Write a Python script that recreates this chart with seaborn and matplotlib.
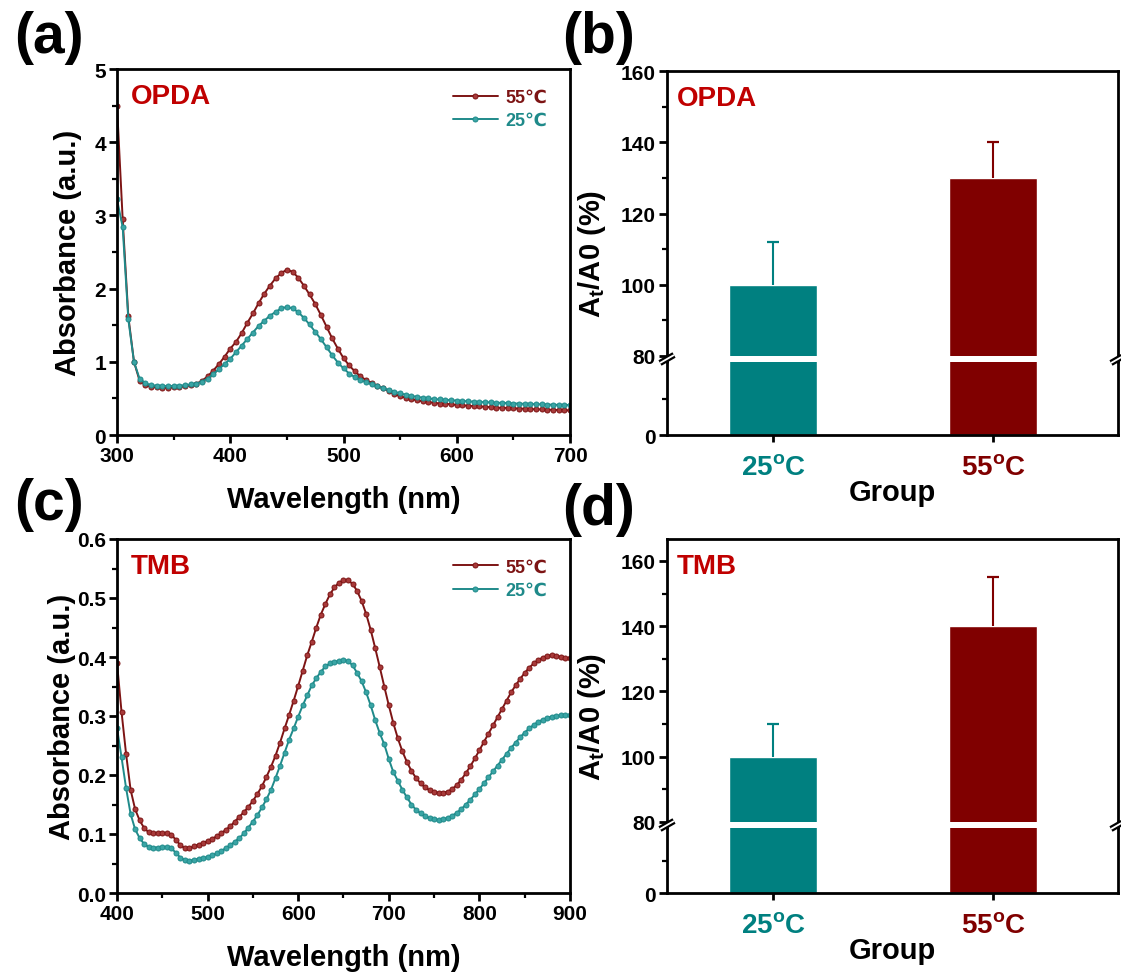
import numpy as np
import pandas as pd
import matplotlib
matplotlib.use('Agg')
import matplotlib.pyplot as plt
from matplotlib.ticker import MultipleLocator, FixedLocator
from matplotlib.lines import Line2D
import seaborn as sns

# ---- data ----
wl_opda = np.arange(300, 705, 5)
opda_55 = [4.50, 2.95, 1.62, 1.00, 0.74, 0.68, 0.66, 0.65, 0.645, 0.645,
           0.65, 0.655, 0.665, 0.68, 0.70, 0.74, 0.80, 0.88, 0.97, 1.07,
           1.18, 1.27, 1.39, 1.53, 1.66, 1.80, 1.93, 2.04, 2.14, 2.21,
           2.26, 2.23, 2.15, 2.04, 1.92, 1.79, 1.64, 1.48, 1.32, 1.18,
           1.05, 0.95, 0.87, 0.80, 0.75, 0.71, 0.67, 0.64, 0.60, 0.56,
           0.53, 0.51, 0.49, 0.475, 0.46, 0.45, 0.44, 0.43, 0.425, 0.42,
           0.41, 0.405, 0.40, 0.395, 0.39, 0.385, 0.38, 0.375, 0.37, 0.37,
           0.365, 0.36, 0.36, 0.355, 0.35, 0.35, 0.345, 0.345, 0.34, 0.34,
           0.335]
opda_25 = [3.22, 2.84, 1.58, 1.00, 0.765, 0.71, 0.68, 0.675, 0.67, 0.67,
           0.67, 0.675, 0.68, 0.69, 0.70, 0.73, 0.77, 0.83, 0.90, 0.97,
           1.04, 1.13, 1.22, 1.31, 1.40, 1.49, 1.56, 1.63, 1.68, 1.73,
           1.75, 1.73, 1.68, 1.60, 1.51, 1.41, 1.31, 1.20, 1.09, 0.99,
           0.91, 0.84, 0.79, 0.75, 0.72, 0.69, 0.665, 0.64, 0.615, 0.59,
           0.57, 0.55, 0.535, 0.52, 0.51, 0.50, 0.49, 0.485, 0.48, 0.475,
           0.47, 0.465, 0.46, 0.455, 0.45, 0.45, 0.445, 0.44, 0.44, 0.435,
           0.43, 0.43, 0.425, 0.425, 0.42, 0.42, 0.415, 0.415, 0.41, 0.41,
           0.41]

wl_tmb = np.arange(400, 905, 5)
tmb_55 = [0.39, 0.307, 0.236, 0.175, 0.142, 0.123, 0.110, 0.103, 0.101, 0.102,
          0.102, 0.101, 0.099, 0.090, 0.081, 0.076, 0.076, 0.079, 0.082, 0.085,
          0.088, 0.092, 0.096, 0.101, 0.107, 0.113, 0.121, 0.129, 0.137, 0.146,
          0.156, 0.168, 0.181, 0.197, 0.214, 0.233, 0.255, 0.279, 0.302, 0.326,
          0.351, 0.377, 0.403, 0.426, 0.450, 0.472, 0.490, 0.506, 0.518, 0.526,
          0.530, 0.530, 0.524, 0.512, 0.495, 0.473, 0.446, 0.415, 0.383, 0.350,
          0.318, 0.288, 0.262, 0.240, 0.222, 0.207, 0.195, 0.186, 0.179, 0.174,
          0.171, 0.170, 0.170, 0.172, 0.176, 0.183, 0.192, 0.203, 0.215, 0.228,
          0.242, 0.256, 0.270, 0.284, 0.298, 0.312, 0.326, 0.340, 0.352, 0.363,
          0.373, 0.382, 0.389, 0.395, 0.399, 0.402, 0.403, 0.402, 0.400, 0.398,
          0.398]
tmb_25 = [0.28, 0.230, 0.178, 0.134, 0.108, 0.093, 0.083, 0.078, 0.077, 0.077,
          0.078, 0.078, 0.076, 0.068, 0.060, 0.056, 0.055, 0.056, 0.058, 0.059,
          0.061, 0.064, 0.067, 0.071, 0.076, 0.081, 0.087, 0.093, 0.101, 0.111,
          0.121, 0.132, 0.145, 0.159, 0.175, 0.195, 0.216, 0.238, 0.260, 0.279,
          0.299, 0.318, 0.335, 0.352, 0.364, 0.375, 0.384, 0.389, 0.392, 0.393,
          0.395, 0.393, 0.386, 0.373, 0.359, 0.340, 0.318, 0.293, 0.271, 0.252,
          0.227, 0.205, 0.190, 0.175, 0.162, 0.150, 0.141, 0.135, 0.130, 0.127,
          0.125, 0.124, 0.125, 0.127, 0.131, 0.136, 0.142, 0.150, 0.158, 0.167,
          0.176, 0.186, 0.196, 0.206, 0.216, 0.226, 0.236, 0.246, 0.255, 0.264,
          0.272, 0.279, 0.285, 0.290, 0.294, 0.297, 0.299, 0.300, 0.301, 0.301,
          0.301]

groups = ['25°C', '55°C']
group_labels = [r'25$^{\mathbf{o}}$C', r'55$^{\mathbf{o}}$C']
opda_ratio = [100, 130]
opda_err = [12, 10]
tmb_ratio = [100, 140]
tmb_err = [10, 15]

# ---- style ----
sns.set_style('white')
plt.rcParams['font.family'] = ['Liberation Sans', 'DejaVu Sans']
plt.rcParams['font.weight'] = 'bold'
plt.rcParams['axes.labelweight'] = 'bold'
plt.rcParams['text.color'] = 'black'
plt.rcParams['axes.labelcolor'] = 'black'
plt.rcParams['xtick.color'] = 'black'
plt.rcParams['ytick.color'] = 'black'
plt.rcParams['mathtext.fontset'] = 'custom'
plt.rcParams['mathtext.rm'] = 'Liberation Sans:bold'
plt.rcParams['mathtext.bf'] = 'Liberation Sans:bold'
plt.rcParams['mathtext.it'] = 'Liberation Sans:bold'

RED_LINE = '#7d1414'
RED_MK = '#a83a3a'
TEAL_LINE = '#1f8a8a'
TEAL_MK = '#3aa5a5'
TEAL = '#008080'
MAROON = '#800000'
TITLE_RED = '#c00000'
SPINE_W = 2.0

W, H = 1121, 978
fig = plt.figure(figsize=(W / 100, H / 100), dpi=100)


def rect(l, t, r, b):
    return [l / W, 1 - b / H, (r - l) / W, (b - t) / H]


def style_axis(ax):
    for s in ax.spines.values():
        s.set_linewidth(SPINE_W)
        s.set_color('black')
    ax.tick_params(which='major', direction='out', length=6, width=2,
                   labelsize=15, left=True, bottom=True, pad=2,
                   colors='black')
    ax.tick_params(which='minor', direction='out', length=3.5, width=1.6,
                   left=True, bottom=True, colors='black')


def spectrum(ax, wl, hot, cold, xlim, ylim, xmaj, ymaj, ymin, name):
    sns.lineplot(x=wl, y=hot, ax=ax, color=RED_LINE, linewidth=1.4,
                 marker='o', markersize=3.6, markerfacecolor=RED_MK,
                 markeredgecolor=RED_LINE, markeredgewidth=0.7, label='55℃')
    sns.lineplot(x=wl, y=cold, ax=ax, color=TEAL_LINE, linewidth=1.4,
                 marker='o', markersize=3.6, markerfacecolor=TEAL_MK,
                 markeredgecolor=TEAL_LINE, markeredgewidth=0.7, label='25℃')
    ax.set_xlim(*xlim)
    ax.set_ylim(*ylim)
    ax.xaxis.set_major_locator(MultipleLocator(xmaj))
    ax.xaxis.set_minor_locator(MultipleLocator(xmaj / 2))
    ax.yaxis.set_major_locator(MultipleLocator(ymaj))
    ax.yaxis.set_minor_locator(MultipleLocator(ymin))
    style_axis(ax)
    ax.set_xlabel('Wavelength (nm)', fontsize=21, va='center')
    ax.set_ylabel('Absorbance (a.u.)', fontsize=21, va='center')
    ax.text(0.03, 0.925, name, transform=ax.transAxes, color=TITLE_RED,
            fontsize=20, fontweight='bold', va='center', ha='left')
    leg = ax.legend(loc='upper right', bbox_to_anchor=(0.985, 0.99),
                    frameon=False, fontsize=13, handlelength=2.5,
                    handletextpad=0.4, labelspacing=0.35, markerscale=1.0)
    for t, c in zip(leg.get_texts(), [RED_LINE, TEAL_LINE]):
        t.set_color(c)
        t.set_fontweight('bold')


def break_mark(x_px, y_top_px, y_bot_px):
    x = x_px / W
    yt, yb = 1 - y_top_px / H, 1 - y_bot_px / H
    fig.add_artist(Line2D([x, x], [yt, yb], color='black', lw=SPINE_W,
                          transform=fig.transFigure))
    ym = (yt + yb) / 2
    dx, dy = 7 / W, 4 / H
    fig.add_artist(Line2D([x - dx, x + dx], [ym - dy, ym + dy], color='black',
                          lw=4.5, transform=fig.transFigure,
                          solid_capstyle='butt'))
    fig.add_artist(Line2D([x - dx, x + dx], [ym - dy, ym + dy], color='white',
                          lw=1.3, transform=fig.transFigure,
                          solid_capstyle='butt'))


def ratio_bars(top_box, bot_box, vals, errs, ytop, name):
    ax_t = fig.add_axes(rect(*top_box))
    ax_b = fig.add_axes(rect(*bot_box))
    df = pd.DataFrame({'group': groups, 'ratio': vals})
    for ax in (ax_t, ax_b):
        sns.barplot(data=df, x='group', y='ratio', hue='group',
                    palette=[TEAL, MAROON], width=0.4, saturation=1,
                    errorbar=None, legend=False, ax=ax)
        ax.set_xlim(-0.482, 1.568)
        ax.set_xlabel('')
        ax.set_ylabel('')
        style_axis(ax)
    # upward-only error bars with a cap at the top
    for i, (v, e, c) in enumerate(zip(vals, errs, [TEAL, MAROON])):
        ax_t.errorbar([i], [v], yerr=[[0], [e]], fmt='none', ecolor=c,
                      elinewidth=1.5, capsize=0)
        ax_t.plot([i], [v + e], marker='_', markersize=9,
                  markeredgewidth=1.6, color=c)
    ax_t.set_ylim(80, ytop)
    ax_t.yaxis.set_major_locator(FixedLocator([80, 100, 120, 140, 160]))
    ax_t.yaxis.set_minor_locator(FixedLocator([90, 110, 130, 150]))
    ax_t.spines['bottom'].set_visible(False)
    ax_t.tick_params(which='both', bottom=False, labelbottom=False)
    ax_b.set_ylim(0, 80)
    ax_b.yaxis.set_major_locator(FixedLocator([0]))
    ax_b.yaxis.set_minor_locator(FixedLocator([40]))
    ax_b.spines['top'].set_visible(False)
    ax_b.set_xticks([0, 1])
    ax_b.set_xticklabels(group_labels, fontsize=20, fontweight='bold')
    ax_b.tick_params(axis='x', which='major', length=5, pad=9)
    for t, c in zip(ax_b.get_xticklabels(), [TEAL, MAROON]):
        t.set_color(c)
    ax_t.text(0.022, 0.905, name, transform=ax_t.transAxes, color=TITLE_RED,
              fontsize=20, fontweight='bold', va='center', ha='left')
    # break marks on both spines
    for xp in (top_box[0], top_box[2]):
        break_mark(xp, top_box[3], bot_box[1])
    # axis titles
    fig.text(892 / W, 1 - (bot_box[3] + 57) / H, 'Group', fontsize=21,
             fontweight='bold', ha='center', va='center')
    fig.text(592 / W, 1 - ((top_box[1] + bot_box[3]) / 2) / H,
             r'A$_\mathbf{t}$/A0 (%)', fontsize=21, fontweight='bold',
             rotation=90, ha='center', va='center')
    return ax_t, ax_b


# (a) OPDA spectra
ax_a = fig.add_axes(rect(117, 70, 570, 436))
spectrum(ax_a, wl_opda, opda_55, opda_25, (300, 700), (0, 5), 100, 1, 0.5, 'OPDA')
ax_a.xaxis.set_label_coords(0.5, (436 - 500) / 366)
ax_a.yaxis.set_label_coords((68 - 117) / 453, 0.5)

# (c) TMB spectra
ax_c = fig.add_axes(rect(117, 540, 570, 894))
spectrum(ax_c, wl_tmb, tmb_55, tmb_25, (400, 900), (0, 0.6), 100, 0.1, 0.05, 'TMB')
ax_c.xaxis.set_label_coords(0.5, (894 - 958) / 354)
ax_c.yaxis.set_label_coords((62 - 117) / 453, 0.5)

# (b) and (d) relative activity with broken y axis
ratio_bars((667, 72, 1118, 357), (667, 363, 1118, 436), opda_ratio, opda_err, 160, 'OPDA')
ratio_bars((667, 540, 1118, 823), (667, 829, 1118, 894), tmb_ratio, tmb_err, 166.7, 'TMB')

# panel letters
for lab, xp, yp in [('(a)', 14, 38), ('(b)', 562, 38), ('(c)', 14, 505), ('(d)', 562, 510)]:
    fig.text(xp / W, 1 - yp / H, lab, fontsize=41, fontweight='bold',
             ha='left', va='center')

plt.savefig('out.png', dpi=100)
